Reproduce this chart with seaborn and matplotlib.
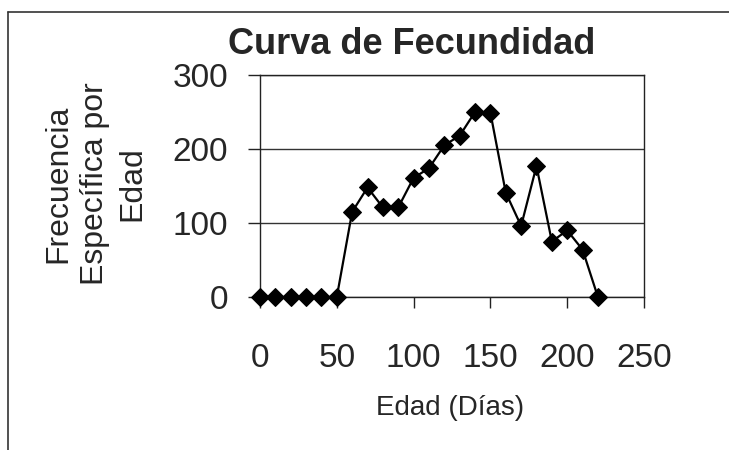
import matplotlib
matplotlib.use("Agg")
import matplotlib.pyplot as plt
import pandas as pd
import seaborn as sns
from matplotlib.lines import Line2D

# fecundity curve
edad = [0, 10, 20, 30, 40, 50, 60, 70, 80, 90, 100, 110, 120, 130, 140, 150,
        160, 170, 180, 190, 200, 210, 220]
frecuencia = [0, 0, 0, 0, 0, 0, 115, 148, 121, 121, 161, 174, 205, 218, 250, 249,
              141, 96, 177, 75, 90, 64, 0]
x_ticks = [0, 50, 100, 150, 200, 250]
y_ticks = [0, 100, 200, 300]

df = pd.DataFrame({'Edad': edad, 'Frecuencia': frecuencia})

sns.set_style('white')
plt.rcParams['font.family'] = ['Liberation Sans', 'DejaVu Sans']

W, H = 729, 450
fig = plt.figure(figsize=(W / 100, H / 100), dpi=100)
ax = fig.add_axes([260 / W, 1 - 297 / H, 384 / W, 222 / H])

sns.lineplot(data=df, x='Edad', y='Frecuencia', ax=ax, color='black',
             linewidth=1.6, marker='D', markersize=9, markeredgecolor='black',
             markerfacecolor='black', clip_on=False, zorder=5)

ax.set_xlim(0, 250)
ax.set_ylim(0, 300)
ax.set_xticks(x_ticks)
ax.set_yticks(y_ticks)
ax.set_xlabel('')
ax.set_ylabel('')
ax.grid(axis='y', color='#333333', linewidth=1.0)
for s in ax.spines.values():
    s.set_visible(True)
    s.set_color('#222222')
    s.set_linewidth(1.0)
ax.tick_params(axis='y', direction='out', length=9, width=1, pad=14,
               labelsize=24, left=True, color='#222222')
ax.tick_params(axis='x', direction='out', length=8, width=1, pad=25,
               labelsize=24, bottom=True, color='#222222')

fig.text(412 / W, 1 - 45 / H, 'Curva de Fecundidad', ha='center', va='center',
         fontsize=26, fontweight='bold')
fig.text(450 / W, 1 - 408 / H, 'Edad (Días)', ha='center', va='center', fontsize=20)
fig.text(95 / W, 1 - 184 / H, 'Frecuencia\nEspecífica por\nEdad', ha='center',
         va='center', rotation=90, fontsize=23, linespacing=1.3,
         multialignment='center')

# outer chart frame (left and top edges visible in the scan)
fig.add_artist(Line2D([8 / W, 8 / W], [0, 1 - 12 / H], color='#333333', linewidth=1.2))
fig.add_artist(Line2D([8 / W, 1], [1 - 12 / H, 1 - 12 / H], color='#333333', linewidth=1.2))

fig.savefig('out.png', dpi=100)
